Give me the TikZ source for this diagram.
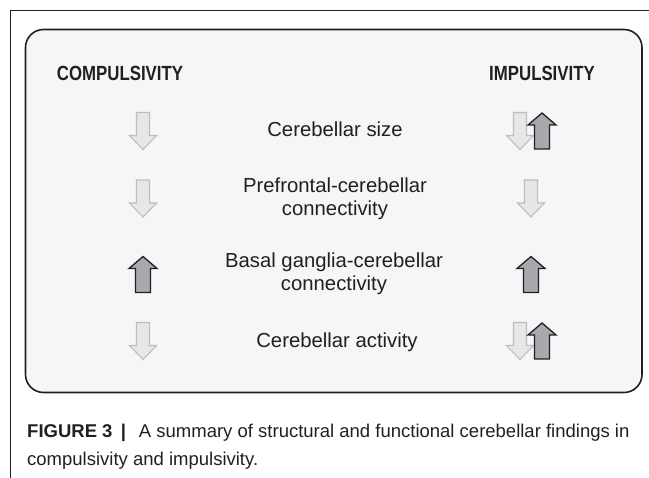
\documentclass[tikz,border=0pt]{standalone}
\usepackage{fontspec}
\setmainfont{Liberation Sans}
\newfontfamily\headfont[FakeStretch=0.82]{Liberation Sans}
\usetikzlibrary{positioning}

\definecolor{boxfill}{HTML}{F5F6F7}
\definecolor{inkdark}{HTML}{231F20}
\definecolor{lightfill}{HTML}{E6E7E8}
\definecolor{lightline}{HTML}{BCBEC0}
\definecolor{darkfill}{HTML}{A7A9AC}

\tikzset{
  finding/.style={font=\fontsize{20.3}{22.5}\selectfont, text=inkdark, align=center, inner sep=0pt},
  heading/.style={font=\headfont\bfseries\fontsize{20.5}{22}\selectfont, text=inkdark, inner sep=0pt, anchor=base},
  pics/decrease/.style={code={
    \filldraw[fill=lightfill, draw=lightline, line width=1.1pt, line join=miter]
      (-6.5,-18.5) -- (6.5,-18.5) -- (6.5,4.5) -- (13.5,4.5) -- (0,18.5)
      -- (-13.5,4.5) -- (-6.5,4.5) -- cycle;}},
  pics/increase/.style={code={
    \filldraw[fill=darkfill, draw=inkdark, line width=1.3pt, line join=miter]
      (-7.5,18) -- (7.5,18) -- (7.5,-6) -- (14,-6) -- (0,-18)
      -- (-14,-6) -- (-7.5,-6) -- cycle;}}
}

\begin{document}
\begin{tikzpicture}[x=1pt, y=-1pt]
    \useasboundingbox (0,0) rectangle (649,478);

    % Page frame
    \draw[inkdark, line width=1.2pt] (10.5,478) -- (10.5,10.5) -- (649,10.5);

    % Summary box
    \draw[inkdark, fill=boxfill, line width=1.6pt, rounded corners=18pt]
      (25.5,29.5) rectangle (642,392.5);

    % Column headings
    \node[heading] (compulsivity) at (120,81) {COMPULSIVITY};
    \node[heading] (impulsivity) at (542,81) {IMPULSIVITY};

    % Findings
    \node[finding] (size) at (335,129.6) {Cerebellar size};
    \node[finding] (prefrontal) at (335,199) {Prefrontal-cerebellar\\connectivity};
    \node[finding] (basal) at (334,274) {Basal ganglia-cerebellar\\connectivity};
    \node[finding] (activity) at (337,341.8) {Cerebellar activity};

    % Compulsivity arrows
    \pic (cSize) at (143,131) {decrease};
    \pic (cPrefrontal) at (143,198.5) {decrease};
    \pic (cBasal) at (143,274.5) {increase};
    \pic (cActivity) at (143,341) {decrease};

    % Impulsivity arrows
    \pic (iSizeDown) at (520,131) {decrease};
    \pic (iSizeUp) at (542,131) {increase};
    \pic (iPrefrontal) at (531,198.5) {decrease};
    \pic (iBasal) at (531,274.5) {increase};
    \pic (iActivityDown) at (520,341) {decrease};
    \pic (iActivityUp) at (542,341) {increase};

    % Caption
    \node[font=\fontsize{18.5}{28}\selectfont, text=inkdark, align=left, inner sep=0pt, anchor=north west]
      (caption) at (27,424) {\textbf{FIGURE 3}\hspace{0.45em}\textbf{|}\hspace{0.7em}A summary of structural and functional cerebellar findings in\\compulsivity and impulsivity.};

\end{tikzpicture}
\end{document}
